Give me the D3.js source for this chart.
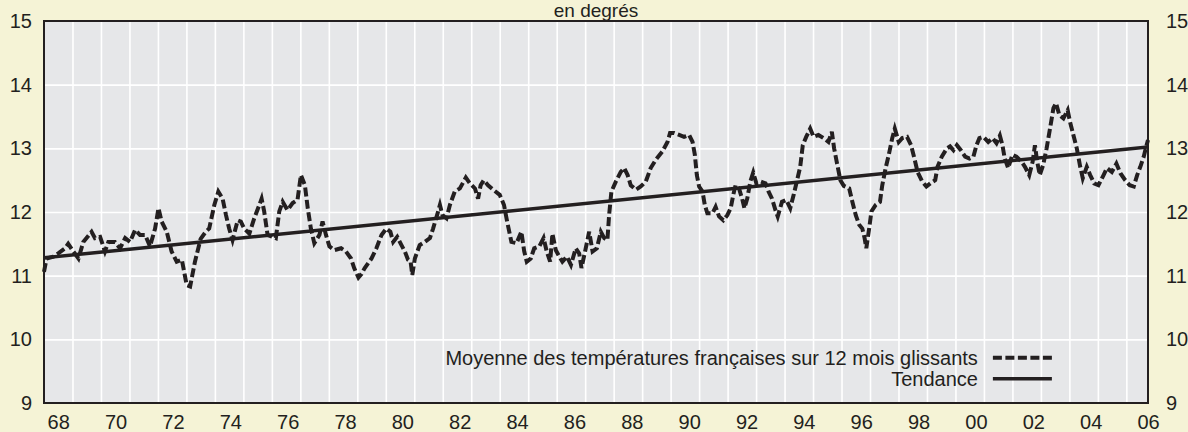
<!DOCTYPE html>
<html>
<head>
<meta charset="utf-8">
<script src="https://cdn.jsdelivr.net/npm/d3@7"></script>
<style>
    body { margin: 0; background: #f5f3d6; }
    text { font-family: "Liberation Sans", Arial, sans-serif; fill: #231f20; }
</style>
</head>
<body>
<svg id="chart"></svg>
<script>
// 12-month rolling mean, decimal years
const years = [
    1968.00, 1968.09, 1968.33, 1968.50, 1968.74, 1968.85, 1969.03, 1969.21, 1969.38, 1969.67,
    1969.79, 1969.97, 1970.14, 1970.26, 1970.49, 1970.67, 1970.85, 1971.02, 1971.20, 1971.37,
    1971.55, 1971.72, 1971.90, 1972.02, 1972.13, 1972.31, 1972.48, 1972.66, 1972.84, 1973.01,
    1973.13, 1973.30, 1973.50, 1973.68, 1973.80, 1973.98, 1974.12, 1974.27, 1974.39, 1974.50,
    1974.62, 1974.80, 1974.91, 1975.03, 1975.21, 1975.38, 1975.56, 1975.64, 1975.73, 1975.85,
    1976.03, 1976.14, 1976.26, 1976.38, 1976.55, 1976.73, 1976.90, 1977.02, 1977.16, 1977.26,
    1977.37, 1977.49, 1977.67, 1977.78, 1977.90, 1978.02, 1978.19, 1978.43, 1978.60, 1978.78,
    1978.89, 1979.04, 1979.15, 1979.26, 1979.50, 1979.67, 1979.85, 1980.02, 1980.16, 1980.26,
    1980.40, 1980.55, 1980.67, 1980.78, 1980.87, 1980.93, 1981.02, 1981.19, 1981.37, 1981.55,
    1981.66, 1981.80, 1981.90, 1981.99, 1982.13, 1982.25, 1982.42, 1982.60, 1982.81, 1982.95,
    1983.13, 1983.24, 1983.33, 1983.44, 1983.59, 1983.77, 1984.00, 1984.15, 1984.26, 1984.41,
    1984.59, 1984.76, 1984.86, 1984.95, 1985.09, 1985.21, 1985.39, 1985.54, 1985.65, 1985.77,
    1985.85, 1985.97, 1986.09, 1986.20, 1986.36, 1986.50, 1986.67, 1986.79, 1986.87, 1987.02,
    1987.14, 1987.26, 1987.41, 1987.55, 1987.67, 1987.78, 1987.84, 1987.92, 1988.08, 1988.25,
    1988.37, 1988.49, 1988.60, 1988.78, 1988.95, 1989.13, 1989.30, 1989.48, 1989.71, 1989.89,
    1989.98, 1990.12, 1990.30, 1990.47, 1990.65, 1990.77, 1990.85, 1990.92, 1991.00, 1991.12,
    1991.20, 1991.29, 1991.47, 1991.58, 1991.70, 1991.85, 1991.99, 1992.11, 1992.20, 1992.28,
    1992.40, 1992.51, 1992.59, 1992.69, 1992.80, 1992.90, 1993.01, 1993.15, 1993.33, 1993.44,
    1993.56, 1993.68, 1993.76, 1993.91, 1994.06, 1994.20, 1994.32, 1994.43, 1994.55, 1994.64,
    1994.76, 1994.90, 1995.02, 1995.19, 1995.37, 1995.54, 1995.66, 1995.74, 1995.83, 1995.96,
    1996.08, 1996.27, 1996.38, 1996.50, 1996.62, 1996.73, 1996.81, 1996.87, 1996.97, 1997.05,
    1997.20, 1997.35, 1997.43, 1997.55, 1997.66, 1997.78, 1997.87, 1998.01, 1998.13, 1998.30,
    1998.44, 1998.56, 1998.67, 1998.83, 1998.98, 1999.12, 1999.29, 1999.37, 1999.52, 1999.70,
    1999.81, 1999.93, 2000.05, 2000.19, 2000.34, 2000.49, 2000.63, 2000.74, 2000.84, 2000.98,
    2001.15, 2001.30, 2001.44, 2001.56, 2001.65, 2001.73, 2001.85, 2002.00, 2002.14, 2002.32,
    2002.44, 2002.59, 2002.71, 2002.79, 2002.87, 2002.96, 2003.08, 2003.20, 2003.32, 2003.44,
    2003.53, 2003.65, 2003.79, 2003.94, 2004.02, 2004.14, 2004.26, 2004.38, 2004.47, 2004.61,
    2004.73, 2004.87, 2005.02, 2005.20, 2005.32, 2005.49, 2005.65, 2005.79, 2005.96, 2006.12,
    2006.26, 2006.38, 2006.49, 2006.61, 2006.71, 2006.76
];
const temps = [
    11.06, 11.27, 11.30, 11.35, 11.43, 11.50, 11.38, 11.27, 11.53, 11.69,
    11.59, 11.61, 11.38, 11.53, 11.53, 11.43, 11.59, 11.53, 11.72, 11.64,
    11.64, 11.46, 11.74, 12.06, 11.85, 11.69, 11.38, 11.22, 11.25, 10.85,
    10.83, 11.22, 11.58, 11.69, 11.74, 12.11, 12.32, 12.21, 11.95, 11.74,
    11.56, 11.87, 11.85, 11.74, 11.66, 11.90, 12.11, 12.21, 12.01, 11.64,
    11.61, 11.59, 12.01, 12.16, 12.03, 12.14, 12.19, 12.58, 12.42, 12.06,
    11.74, 11.51, 11.64, 11.85, 11.64, 11.46, 11.40, 11.43, 11.38, 11.27,
    11.12, 10.97, 11.03, 11.12, 11.27, 11.43, 11.64, 11.74, 11.69, 11.53,
    11.61, 11.48, 11.38, 11.25, 11.22, 11.01, 11.27, 11.48, 11.53, 11.59,
    11.74, 11.95, 12.11, 11.95, 11.90, 12.11, 12.32, 12.37, 12.54, 12.45,
    12.37, 12.21, 12.42, 12.50, 12.42, 12.35, 12.27, 12.11, 11.85, 11.53,
    11.51, 11.69, 11.38, 11.22, 11.27, 11.43, 11.46, 11.59, 11.38, 11.22,
    11.66, 11.40, 11.30, 11.22, 11.30, 11.17, 11.43, 11.35, 11.12, 11.43,
    11.69, 11.38, 11.43, 11.69, 11.59, 11.56, 11.95, 12.32, 12.48, 12.63,
    12.69, 12.58, 12.42, 12.35, 12.40, 12.48, 12.69, 12.82, 12.95, 13.10,
    13.24, 13.24, 13.21, 13.18, 13.21, 13.10, 12.90, 12.58, 12.40, 12.32,
    12.11, 11.98, 11.98, 12.08, 11.93, 11.87, 11.95, 12.06, 12.27, 12.42,
    12.37, 12.21, 12.06, 12.21, 12.48, 12.62, 12.45, 12.48, 12.45, 12.32,
    12.21, 12.03, 11.93, 12.16, 12.19, 12.06, 12.27, 12.48, 12.71, 13.05,
    13.18, 13.31, 13.18, 13.21, 13.16, 13.10, 13.26, 13.00, 12.79, 12.50,
    12.41, 12.37, 12.16, 11.95, 11.80, 11.74, 11.59, 11.43, 11.74, 12.01,
    12.11, 12.16, 12.42, 12.69, 12.90, 13.16, 13.31, 13.10, 13.16, 13.18,
    13.05, 12.84, 12.63, 12.48, 12.40, 12.45, 12.50, 12.71, 12.87, 13.00,
    13.03, 12.97, 13.05, 12.97, 12.87, 12.84, 12.87, 13.05, 13.16, 13.18,
    13.10, 13.16, 13.08, 13.20, 13.05, 12.84, 12.69, 12.90, 12.87, 12.79,
    12.71, 12.58, 12.79, 13.05, 12.79, 12.58, 12.74, 13.00, 13.31, 13.63,
    13.71, 13.52, 13.47, 13.60, 13.42, 13.21, 13.00, 12.71, 12.53, 12.71,
    12.58, 12.45, 12.42, 12.58, 12.69, 12.63, 12.76, 12.61, 12.50, 12.42,
    12.40, 12.58, 12.71, 12.87, 13.05, 13.13
];

// linear trend, start and end
const trendYears = [1968.00, 2006.76];
const trendTemps = [11.28, 13.02];

const yearLabels = ["68", "70", "72", "74", "76", "78", "80", "82", "84", "86",
    "88", "90", "92", "94", "96", "98", "00", "02", "04", "06"];
const tempTicks = [9, 10, 11, 12, 13, 14, 15];

const legendLabels = ["Moyenne des températures françaises sur 12 mois glissants", "Tendance"];

const margin = { top: 21, right: 40, bottom: 29, left: 44 };
const width = 1104;
const height = 382;
const ink = "#231f20";
const dash = "9,3.5";

const svg = d3.select("#chart")
    .attr("width", width + margin.left + margin.right)
    .attr("height", height + margin.top + margin.bottom);

const container = svg.append("g")
    .attr("transform", `translate(${margin.left}, ${margin.top})`);

const xScale = d3.scaleLinear().domain([1968, 2006.76]).range([0, width]);
const yScale = d3.scaleLinear().domain([9, 15]).range([height, 0]);
// year labels sit evenly spread, from the middle of 1968 to the right edge
const labelScale = d3.scalePoint().domain(yearLabels).range([xScale(1968.5), width]);

container.append("rect")
    .attr("width", width)
    .attr("height", height)
    .attr("fill", "#e6e7e9");

// grid
container.append("g")
    .call(d3.axisBottom(xScale).tickValues(d3.range(1969, 2007)).tickSize(height).tickFormat(""))
    .call(g => g.select(".domain").remove())
    .call(g => g.selectAll("line").attr("stroke", "#fff").attr("stroke-width", 1.6));

container.append("g")
    .call(d3.axisLeft(yScale).tickValues([10, 11, 12, 13, 14]).tickSize(-width).tickFormat(""))
    .call(g => g.select(".domain").remove())
    .call(g => g.selectAll("line").attr("stroke", "#fff").attr("stroke-width", 1.6));

// series
const points = years.map((y, i) => [y, temps[i]]);
const trend = trendYears.map((y, i) => [y, trendTemps[i]]);

const line = d3.line()
    .x(d => xScale(d[0]))
    .y(d => yScale(d[1]));

container.append("path")
    .datum(trend)
    .attr("fill", "none")
    .attr("stroke", ink)
    .attr("stroke-width", 3.5)
    .attr("d", line);

container.append("path")
    .datum(points)
    .attr("fill", "none")
    .attr("stroke", ink)
    .attr("stroke-width", 4)
    .attr("stroke-dasharray", dash)
    .attr("d", line);

// frame
container.append("rect")
    .attr("width", width)
    .attr("height", height)
    .attr("fill", "none")
    .attr("stroke", ink)
    .attr("stroke-width", 2);

// axes labels
const leftAxis = container.append("g")
    .call(d3.axisLeft(yScale).tickValues(tempTicks).tickFormat(d3.format("d")).tickSize(0).tickPadding(12));
const rightAxis = container.append("g")
    .attr("transform", `translate(${width}, 0)`)
    .call(d3.axisRight(yScale).tickValues(tempTicks).tickFormat(d3.format("d")).tickSize(0).tickPadding(18));
const bottomAxis = container.append("g")
    .attr("transform", `translate(0, ${height})`)
    .call(d3.axisBottom(labelScale).tickSize(0).tickPadding(12));

[leftAxis, rightAxis, bottomAxis].forEach(a => {
    a.select(".domain").remove();
    a.selectAll("text")
        .style("font-size", "20px")
        .style("font-family", "'Liberation Sans', Arial, sans-serif")
        .attr("fill", ink);
});

svg.append("text")
    .attr("x", margin.left + width / 2)
    .attr("y", 17)
    .attr("text-anchor", "middle")
    .style("font-size", "19px")
    .text("en degrés");

// legend
const legend = container.append("g")
    .attr("transform", `translate(${xScale(2001.56)}, ${yScale(9.71)})`);

legendLabels.forEach((label, i) => {
    const row = legend.append("g").attr("transform", `translate(0, ${i * 21})`);
    row.append("text")
        .attr("x", -22)
        .attr("y", 7)
        .attr("text-anchor", "end")
        .style("font-size", "20px")
        .text(label);
    row.append("line")
        .attr("x1", -7)
        .attr("x2", 52)
        .attr("stroke", ink)
        .attr("stroke-width", i == 0 ? 4 : 3.5)
        .attr("stroke-dasharray", i == 0 ? dash : null);
});
</script>
</body>
</html>
